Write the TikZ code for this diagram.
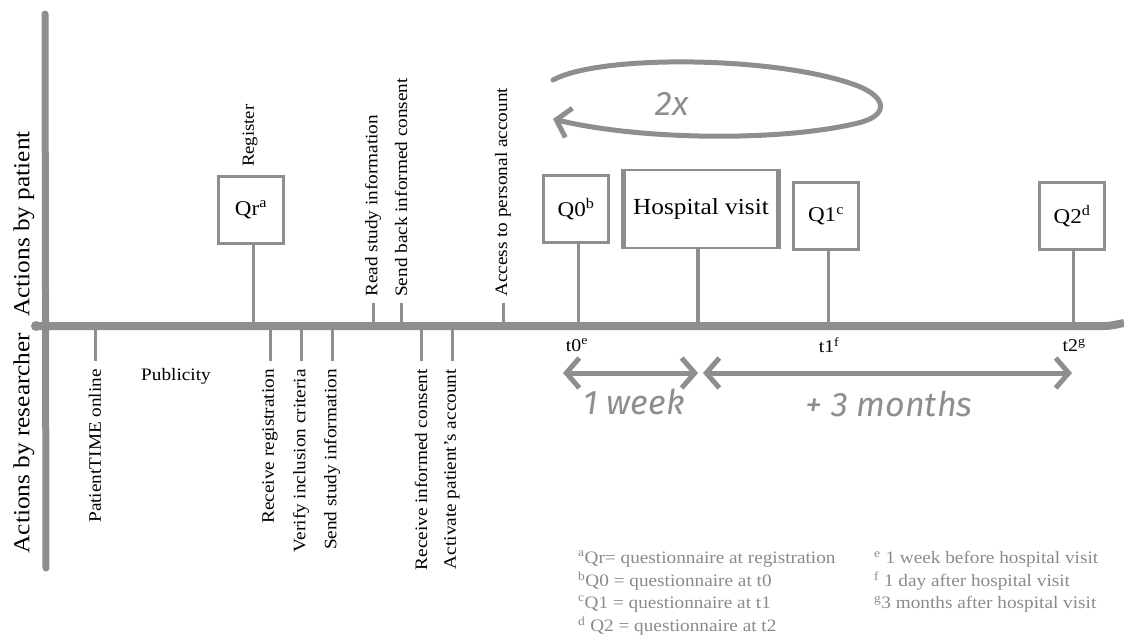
\documentclass[tikz,border=0pt]{standalone}
\usepackage{fontspec}
\setmainfont{Liberation Serif}[FakeStretch=1.1]
\newfontfamily\hand{Fira Sans}
\usetikzlibrary{arrows.meta}
\definecolor{ax}{HTML}{8E8E8E}
\definecolor{fn}{HTML}{8A8A8A}
\newcommand{\fs}[1]{\fontsize{#1}{#1}\selectfont}
\begin{document}
\begin{tikzpicture}[x=1pt,y=-1pt,
  axisline/.style={draw=ax,line width=8pt,line cap=round},
  stem/.style={draw=ax,line width=3pt},
  qbox/.style={draw=ax,line width=2.5pt,minimum width=65pt,minimum height=67pt,inner sep=0pt,font=\fs{21}},
  uplab/.style={rotate=90,anchor=west,inner sep=0pt,font=\fs{17.5}},
  dnlab/.style={rotate=90,anchor=east,inner sep=0pt,font=\fs{17.5}},
  sidelab/.style={rotate=90,inner sep=0pt,font=\fs{23}},
  tlab/.style={inner sep=0pt,font=\fs{18}},
  note/.style={anchor=west,inner sep=0pt,text=fn,font=\fs{17.5}},
  handtxt/.style={text=ax,font=\hand\itshape\fs{34}},
  dur/.style={draw=ax,line width=5pt,{Straight Barb[length=13pt,width=30pt]}-{Straight Barb[length=13pt,width=30pt]}}
]
\useasboundingbox (0,0) rectangle (1124,635);

% axes
\coordinate (vtop) at (45,14);
\coordinate (vbot) at (46,568);
\coordinate (hleft) at (36,326);
\coordinate (hmid) at (1104,326);
\coordinate (hright) at (1124,323);
\draw[axisline,line width=7pt] (vtop) -- (vbot);
\draw[axisline,line cap=butt] (hleft) -- (hmid) to[out=0,in=190] (hright);
\fill[ax] (hleft) circle (5pt);

% side titles
\node[sidelab] (pat) at (24,224) {Actions by patient};
\node[sidelab] (res) at (24,443) {Actions by researcher};

% axis coordinates
\coordinate (sqr) at (253,323);
\coordinate (sq0) at (578,323);
\coordinate (shv) at (698,323);
\coordinate (sq1) at (828,323);
\coordinate (sq2) at (1073,323);

% boxes above axis
\node[qbox] (qr) at (251,210) {Qr\textsuperscript{a}};
\node[qbox] (q0) at (576,209) {Q0\textsuperscript{b}};
\node[qbox,minimum width=153pt,minimum height=78pt,font=\fs{23}] (hv) at (701,209) {Hospital visit};
\node[qbox] (q1) at (826,216) {Q1\textsuperscript{c}};
\node[qbox] (q2) at (1072,216) {Q2\textsuperscript{d}};
\draw[ax,line width=5pt] (hv.north west) -- (hv.south west);
\draw[ax,line width=5pt] (hv.north east) -- (hv.south east);

\draw[stem] (qr.south -| sqr) -- (sqr);
\draw[stem] (q0.south -| sq0) -- (sq0);
\draw[stem,line width=4pt] (hv.south -| shv) -- (shv);
\draw[stem] (q1.south -| sq1) -- (sq1);
\draw[stem] (q2.south -| sq2) -- (sq2);

\node[uplab,font=\fs{17}] (reg) at (250,167) {Register};

% patient ticks
\node[uplab] (read) at (373,297) {Read study information};
\node[uplab] (sendb) at (401,297) {Send back informed consent};
\node[uplab] (acc) at (503,297) {Access to personal account};
\coordinate (aread) at (373,323);
\coordinate (asendb) at (401,323);
\coordinate (aacc) at (503,323);
\draw[stem,shorten <=6pt] (read.west) -- (aread);
\draw[stem,shorten <=6pt] (sendb.west) -- (asendb);
\draw[stem,shorten <=6pt] (acc.west) -- (aacc);

% researcher ticks
\coordinate (bpt) at (95,329);
\coordinate (brr) at (270,329);
\coordinate (bvi) at (301,329);
\coordinate (bss) at (332,329);
\coordinate (bri) at (421,329);
\coordinate (bap) at (452,329);
\node[dnlab] (pt) at (95,369) {PatientTIME online};
\node[dnlab] (rr) at (270,369) {Receive registration};
\node[dnlab] (vi) at (301,369) {Verify inclusion criteria};
\node[dnlab] (ss) at (332,369) {Send study information};
\node[dnlab] (ri) at (421,369) {Receive informed consent};
\node[dnlab] (ap) at (452,369) {Activate patient's account};
\draw[stem,shorten >=8pt] (bpt) -- (pt.east);
\draw[stem,shorten >=8pt] (brr) -- (rr.east);
\draw[stem,shorten >=8pt] (bvi) -- (vi.east);
\draw[stem,shorten >=8pt] (bss) -- (ss.east);
\draw[stem,shorten >=8pt] (bri) -- (ri.east);
\draw[stem,shorten >=8pt] (bap) -- (ap.east);
\node[inner sep=0pt,font=\fs{17.5}] (pub) at (176,376) {Publicity};

% time labels
\node[tlab] (t0) at (577,345) {t0\textsuperscript{e}};
\node[tlab] (t1) at (829,345) {t1\textsuperscript{f}};
\node[tlab] (t2) at (1074,345) {t2\textsuperscript{g}};

% duration arrows
\coordinate (d0) at (563,373);
\coordinate (d1) at (698,373);
\coordinate (d2) at (703,373);
\coordinate (d3) at (1072,373);
\draw[dur] (d0) -- (d1);
\draw[dur] (d2) -- (d3);
\node[handtxt] (wk) at (634,402) {1 week};
\node[handtxt] (mo) at (889,404) {+ 3 months};

% repeat loop
\coordinate (ls) at (553,80);
\coordinate (le) at (553,119);
\draw[draw=ax,line width=5pt,line cap=round,-{Straight Barb[length=13pt,width=30pt]}]
  (ls) .. controls (600,54) and (780,56) .. (858,86)
       .. controls (888,98) and (888,116) .. (858,123)
       .. controls (780,142) and (640,140) .. (le);
\node[handtxt] (twox) at (672,104) {2x};

% footnotes
\node[note] (n1) at (578,559) {\textsuperscript{a}Qr= questionnaire at registration};
\node[note] (n2) at (578,581) {\textsuperscript{b}Q0 = questionnaire at t0};
\node[note] (n3) at (578,604) {\textsuperscript{c}Q1 = questionnaire at t1};
\node[note] (n4) at (578,626) {\textsuperscript{d} Q2 = questionnaire at t2};
\node[note] (n5) at (874,559) {\textsuperscript{e} 1 week before hospital visit};
\node[note] (n6) at (874,581) {\textsuperscript{f} 1 day after hospital visit};
\node[note] (n7) at (874,604) {\textsuperscript{g}3 months after hospital visit};
\end{tikzpicture}
\end{document}
